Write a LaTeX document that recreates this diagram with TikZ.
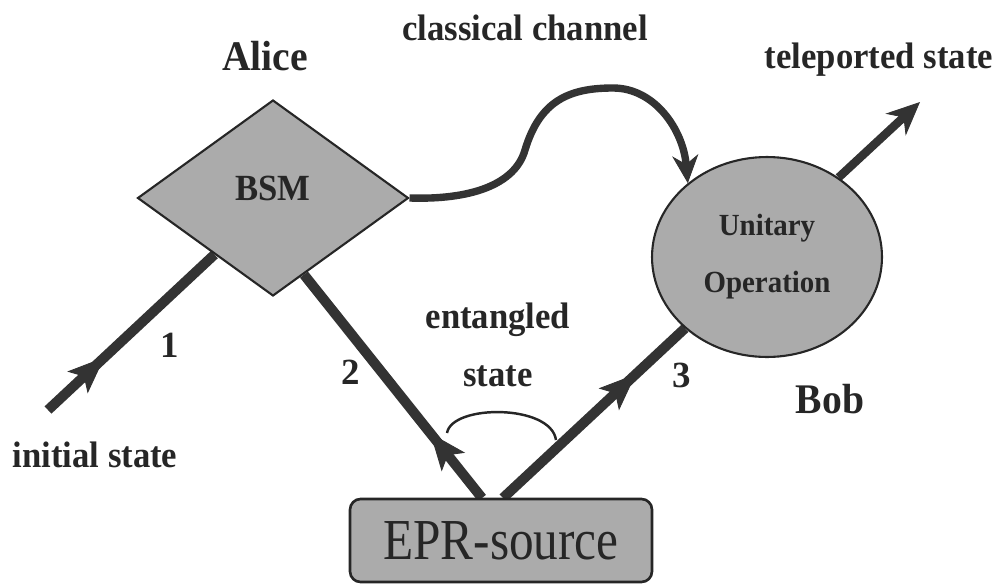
\documentclass[tikz,border=0pt]{standalone}
\usepackage{fontspec}
\setmainfont{Liberation Serif}
\usetikzlibrary{shapes,positioning,arrows.meta,decorations.markings}
\pgfdeclarelayer{back}
\pgfsetlayers{back,main}

\newcommand{\narrow}[2][0.94]{\scalebox{#1}[1]{#2}}

\tikzset{
    device/.style={draw=black!85, fill=black!33, line width=1.2pt, text=black!85},
    beam/.style={draw=black!80, line width=5.7pt},
    party/.style={font=\bfseries\fontsize{24}{26}\selectfont, text=black!85},
    lbl/.style={font=\bfseries\fontsize{21}{33}\selectfont, text=black!85, align=center},
    midarrow/.style={postaction={decorate},
        decoration={markings,
            mark=at position #1 with {\arrow{Stealth[length=21pt,width=17pt,inset=5pt,line width=0.5pt]}}}}
}

\begin{document}
\begin{tikzpicture}[x=0.02cm,y=0.02cm]
\useasboundingbox (0,0) rectangle (1000,583);

        \node[device,
            diamond,
            minimum width=5.42cm,
            minimum height=3.92cm,
            inner sep=0pt,
            text depth=0.4cm,
            font=\bfseries\fontsize{21}{23}\selectfont] (bsm) at (273,385) {\narrow{BSM}};

        \node[device,
            ellipse,
            minimum width=4.6cm,
            minimum height=4cm,
            align=center,
            font=\bfseries\fontsize{17.5}{32.4}\selectfont] (uop) at (767,326) {\narrow{Unitary}\\\narrow{Operation}};

        \node[device,
            rectangle,
            rounded corners=6pt,
            line width=1.5pt,
            minimum width=6.04cm,
            minimum height=1.66cm,
            font=\fontsize{33}{33}\selectfont] (epr) at (501,42.5) {\narrow[0.85]{EPR-source}};

        \node[party] (alice) at (265,527) {\narrow{Alice}};
        \node[party] (bob) at (830,184) {\narrow{Bob}};
        \node[lbl] (chan) at (525,555) {\narrow{classical channel}};
        \node[lbl] (tele) at (879,523) {\narrow{teleported state}};
        \node[lbl] (init) at (95,128) {\narrow{initial state}};
        \node[lbl] (ent) at (498,238) {\narrow{entangled}\\\narrow{state}};
        \node[lbl] (n1) at (170,238) {1};
        \node[lbl] (n2) at (351,211) {2};
        \node[lbl] (n3) at (682,208) {3};

        \coordinate (start) at (48,173);
        \coordinate (footL) at (482,85);
        \coordinate (footR) at (503,85);
        \coordinate (out) at (920,481);
        \coordinate (entL) at (447,150);
        \coordinate (entR) at (556,143);

% Connectors
\begin{pgfonlayer}{back}
        \draw[beam, midarrow=0.34] (start) -- (bsm.224);
        \draw[beam, midarrow=0.29] (footL) -- (bsm.-68);
        \draw[beam, midarrow=0.73] (footR) -- (uop.221);

        \draw[draw=black!80, line width=4.8pt,
            -{Stealth[length=19pt,width=17pt,line width=0.5pt]}] (uop.48) -- (out);

        \draw[draw=black!80, line width=4.2pt,
            -{Stealth[length=16pt,width=15pt,line width=0.5pt]}] (bsm.east)
            .. controls (470,383) and (515,398) .. (525,433)
            .. controls (540,483) and (570,495) .. (613,495)
            .. controls (655,495) and (683,453) .. (uop.137);
\end{pgfonlayer}

        \draw[black!85, line width=1.4pt] (entL) .. controls (452,179) and (551,179) .. (entR);

\end{tikzpicture}
\end{document}
